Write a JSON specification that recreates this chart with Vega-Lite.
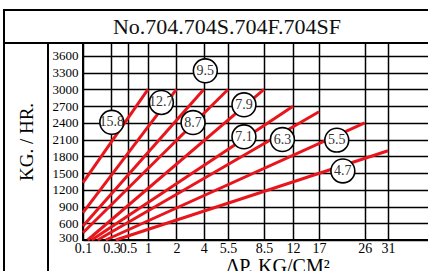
{
  "$schema": "https://vega.github.io/schema/vega-lite/v6.json",
  "padding": {"left": 3, "top": 9, "right": 0, "bottom": 0},
  "background": "white",
  "config": {
    "view": {"stroke": "black", "strokeWidth": 2},
    "font": "Liberation Serif"
  },
  "datasets": {
    "lines": [
      {"series": "15.8", "dp": 0.1, "flow": 1329},
      {"series": "15.8", "dp": 1, "flow": 3000},
      {"series": "12.7", "dp": 0.1, "flow": 790},
      {"series": "12.7", "dp": 2, "flow": 3000},
      {"series": "9.5", "dp": 0.1, "flow": 551},
      {"series": "9.5", "dp": 4, "flow": 3000},
      {"series": "8.7", "dp": 0.1, "flow": 431},
      {"series": "8.7", "dp": 5.5, "flow": 3000},
      {"series": "7.9", "dp": 0.133, "flow": 300},
      {"series": "7.9", "dp": 8.5, "flow": 3000},
      {"series": "7.1", "dp": 0.161, "flow": 300},
      {"series": "7.1", "dp": 12, "flow": 2700},
      {"series": "6.3", "dp": 0.2035, "flow": 300},
      {"series": "6.3", "dp": 17, "flow": 2600},
      {"series": "5.5", "dp": 0.26, "flow": 300},
      {"series": "5.5", "dp": 26, "flow": 2400},
      {"series": "4.7", "dp": 0.352, "flow": 300},
      {"series": "4.7", "dp": 31, "flow": 1900}
    ],
    "labels": [
      {"label": "15.8", "dp": 0.305, "flow": 2410},
      {"label": "12.7", "dp": 1.47, "flow": 2766},
      {"label": "9.5", "dp": 4.1, "flow": 3335},
      {"label": "8.7", "dp": 3.22, "flow": 2407},
      {"label": "7.9", "dp": 6.83, "flow": 2725},
      {"label": "7.1", "dp": 6.83, "flow": 2150},
      {"label": "6.3", "dp": 10.72, "flow": 2101},
      {"label": "5.5", "dp": 20.5, "flow": 2091},
      {"label": "4.7", "dp": 21.7, "flow": 1539}
    ]
  },
  "bounds": "flush",
  "spacing": 0,
  "vconcat": [
    {
      "width": 446,
      "height": 33,
      "data": {"values": [{"t": "No.704.704S.704F.704SF"}]},
      "mark": {"type": "text", "fontSize": 22, "font": "Liberation Serif", "color": "#111", "baseline": "middle", "align": "center"},
      "encoding": {
        "x": {"datum": 0.5, "type": "quantitative", "scale": {"domain": [0, 1]}, "axis": null},
        "y": {"datum": 0.5, "type": "quantitative", "scale": {"domain": [0, 1]}, "axis": null},
        "text": {"field": "t"}
      }
    },
    {
      "bounds": "flush",
      "spacing": 35,
      "hconcat": [
        {
          "width": 44,
          "height": 232,
          "data": {"values": [{"t": ""}]},
          "mark": {"type": "text"},
          "encoding": {
            "x": {"datum": 0.5, "type": "quantitative", "scale": {"domain": [0, 1]}, "axis": null},
            "y": {"datum": 0.5, "type": "quantitative", "scale": {"domain": [0, 1]}, "axis": null},
            "text": {"field": "t"}
          }
        },
        {
          "width": 389,
          "height": 197,
          "layer": [
            {
              "data": {"name": "lines"},
              "mark": {"type": "line", "color": "#e8161c", "strokeWidth": 3, "strokeCap": "butt"},
              "encoding": {
                "x": {
                  "field": "dp", "type": "quantitative",
                  "scale": {"domain": [0.1, 0.3, 0.5, 1, 2, 4, 5.5, 8.5, 12, 17, 26, 31, 45], "range": [0, 28.4, 45, 65, 93.4, 120.7, 145, 181, 210, 236, 281.7, 305, 389], "nice": false, "zero": false},
                  "axis": {
                    "values": [0.1, 0.3, 0.5, 1, 2, 4, 5.5, 8.5, 12, 17, 26, 31],
                    "tickCount": 100,
                    "format": "~g",
                    "grid": true, "gridColor": "black", "gridWidth": 1.5, "gridOpacity": 1,
                    "ticks": false, "domain": false,
                    "labelFont": "Liberation Serif", "labelFontSize": 14, "labelColor": "black",
                    "labelPadding": 1, "labelFlush": false, "labelOverlap": false,
                    "title": "ΔP.  KG/CM²", "titleFont": "Liberation Serif", "titleFontSize": 20,
                    "titleFontWeight": "normal", "titleColor": "black", "titlePadding": 1
                  }
                },
                "y": {
                  "field": "flow", "type": "quantitative",
                  "scale": {"domain": [300, 3833], "nice": false, "zero": false},
                  "axis": {
                    "values": [300, 600, 900, 1200, 1500, 1800, 2100, 2400, 2700, 3000, 3300, 3600],
                    "tickCount": 100,
                    "format": "d",
                    "grid": true, "gridColor": "black", "gridWidth": 1.5, "gridOpacity": 1,
                    "ticks": false, "domain": false,
                    "labelFont": "Liberation Serif", "labelFontSize": 13, "labelColor": "black",
                    "labelPadding": 5, "labelOverlap": false,
                    "labelOffset": {"condition": {"test": "datum.value == 300", "value": -3}, "value": 0},
                    "title": "KG. / HR.", "titleFont": "Liberation Serif", "titleFontSize": 19,
                    "titleFontWeight": "normal", "titleColor": "black",
                    "titleX": -57, "titleAngle": -90, "titleBaseline": "middle", "titleAlign": "center"
                  }
                },
                "detail": {"field": "series"}
              }
            },
            {
              "data": {"name": "labels"},
              "mark": {"type": "point", "shape": "circle", "size": 570, "fill": "white", "stroke": "black", "strokeWidth": 1.6, "opacity": 1, "fillOpacity": 1, "strokeOpacity": 1},
              "encoding": {
                "x": {"field": "dp", "type": "quantitative"},
                "y": {"field": "flow", "type": "quantitative"}
              }
            },
            {
              "data": {"name": "labels"},
              "mark": {"type": "text", "fontSize": 14, "font": "Liberation Serif", "color": "#333", "baseline": "middle", "align": "center"},
              "encoding": {
                "x": {"field": "dp", "type": "quantitative"},
                "y": {"field": "flow", "type": "quantitative"},
                "text": {"field": "label"}
              }
            }
          ]
        }
      ]
    }
  ]
}
